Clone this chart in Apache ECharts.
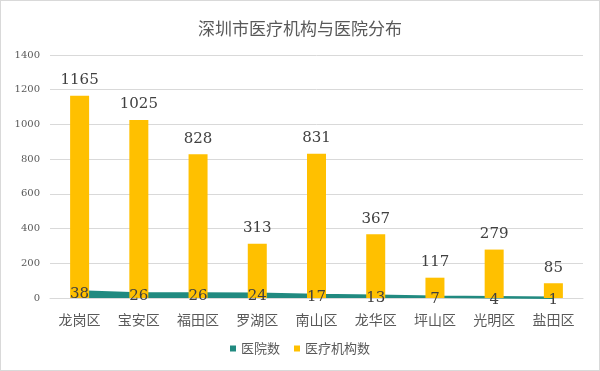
<!DOCTYPE html>
<html>
<head>
<meta charset="utf-8">
<script src="https://cdn.jsdelivr.net/npm/echarts@6/dist/echarts.min.js"></script>
<style>
html,body{margin:0;padding:0;background:#fff;}
#c{width:600px;height:371px;box-sizing:border-box;border:1px solid #d9d9d9;}
</style>
</head>
<body>
<div id="c"></div>
<script>
var categories = ['龙岗区','宝安区','福田区','罗湖区','南山区','龙华区','坪山区','光明区','盐田区'];
var hospitals = [38, 26, 26, 24, 17, 13, 7, 4, 1];
var institutions = [1165, 1025, 828, 313, 831, 367, 117, 279, 85];
var yTicks = [0, 200, 400, 600, 800, 1000, 1200, 1400];

var chart = echarts.init(document.getElementById('c'));
var teal = '#218A80';
var gold = '#FFC000';
var numFont = 'DejaVu Serif';
chart.setOption({
  backgroundColor: '#fff',
  animation: false,
  title: {
    text: '深圳市医疗机构与医院分布',
    left: 'center', top: 14,
    textStyle: {fontFamily: 'Noto Sans CJK SC', fontSize: 17, fontWeight: 'normal', color: '#595959'}
  },
  legend: {
    data: ['医院数', '医疗机构数'],
    bottom: 10, left: 'center',
    itemWidth: 6, itemHeight: 6, itemGap: 14,
    icon: 'rect',
    textStyle: {fontFamily: 'Noto Sans CJK SC', fontSize: 13, color: '#595959'}
  },
  grid: {left: 49, right: 16, top: 54, bottom: 72, containLabel: false},
  xAxis: {
    type: 'category',
    data: categories,
    axisLine: {show: true, lineStyle: {color: '#d9d9d9'}},
    axisTick: {show: false},
    axisLabel: {fontFamily: 'Noto Sans CJK SC', fontSize: 14, color: '#595959', margin: 15}
  },
  yAxis: {
    type: 'value',
    min: yTicks[0], max: yTicks[yTicks.length - 1], interval: 200,
    axisLine: {show: false},
    axisTick: {show: false},
    axisLabel: {fontFamily: numFont, fontSize: 10, color: '#595959', margin: 10,
      formatter: function (v) { return String(v); }},
    splitLine: {lineStyle: {color: '#d9d9d9'}}
  },
  series: [
    {
      name: '医院数',
      type: 'line',
      data: hospitals,
      z: 1,
      symbol: 'none',
      lineStyle: {color: teal, width: 2.5},
      itemStyle: {color: teal},
      areaStyle: {color: teal, opacity: 1}
    },
    {
      name: '医疗机构数',
      type: 'bar',
      data: institutions,
      z: 2,
      barWidth: 19,
      itemStyle: {color: gold},
      label: {show: true, position: 'top', distance: 8, fontFamily: numFont, fontSize: 15, color: '#404040'}
    },
    {
      name: '医院数',
      type: 'line',
      data: hospitals,
      z: 5,
      symbol: 'circle',
      symbolSize: 2,
      showSymbol: true,
      itemStyle: {color: 'rgba(0,0,0,0)', borderWidth: 0},
      lineStyle: {width: 0, color: 'rgba(0,0,0,0)'},
      labelLayout: {hideOverlap: false},
      label: {show: true, position: 'bottom', distance: -6, fontFamily: numFont, fontSize: 15, color: '#404040'}
    }
  ]
});
</script>
</body>
</html>
